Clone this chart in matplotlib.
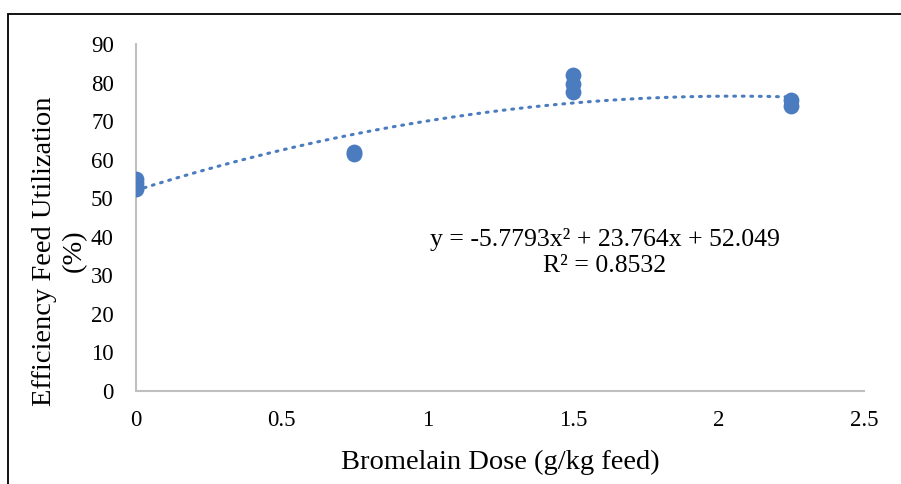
import numpy as np
import matplotlib
matplotlib.use('Agg')
import matplotlib.pyplot as plt
from matplotlib.patches import Rectangle

# bromelain dose (g/kg feed) and efficiency feed utilization (%)
dose = [0, 0, 0, 0, 0.75, 0.75, 1.5, 1.5, 1.5, 2.25, 2.25]
efu = [55, 54, 53, 52.5, 61.5, 62, 82, 79.5, 77.5, 75.5, 74]

# polynomial trendline coefficients as printed on the chart
coef = [-5.7793, 23.764, 52.049]
r2 = 0.8532

x_ticks = [0, 0.5, 1, 1.5, 2, 2.5]
y_ticks = [0, 10, 20, 30, 40, 50, 60, 70, 80, 90]

plt.rcParams['font.family'] = ['Liberation Serif', 'DejaVu Serif']

W, H = 901, 484
fig = plt.figure(figsize=(W / 100, H / 100), dpi=100)
ax = fig.add_axes([136 / W, 1 - 391 / H, 728 / W, 347 / H])

blue = '#4a7cbf'
xs = np.linspace(0, 2.25, 200)
ax.plot(xs, np.polyval(coef, xs), color=blue, linewidth=2.2,
        linestyle=(0, (0.6, 2.2)), dash_capstyle='round', zorder=2)
ax.scatter(dose, efu, s=130, color=blue, zorder=3, linewidths=0)

ax.set_xlim(0, 2.5)
ax.set_ylim(0, 90)
ax.set_xticks(x_ticks)
ax.set_xticklabels([f'{t:g}' for t in x_ticks])
ax.set_yticks(y_ticks)
ax.tick_params(length=0, labelsize=16.5)
ax.tick_params(axis='y', pad=16)
ax.tick_params(axis='x', pad=14)
for s in ['top', 'right']:
    ax.spines[s].set_visible(False)
for s in ['left', 'bottom']:
    ax.spines[s].set_color('#bfbfbf')
    ax.spines[s].set_linewidth(1.5)

fig.text(500 / W, 1 - 462 / H, 'Bromelain Dose (g/kg feed)', fontsize=20.5,
         ha='center', va='center')
fig.text(59 / W, 1 - 251 / H, 'Efficiency Feed Utilization\n(%)',
         fontsize=20.5, rotation=90, ha='center', va='center',
         multialignment='center', linespacing=1.25)

eq = f'y = {coef[0]}x² + {coef[1]}x + {coef[2]}\nR² = {r2}'
ax.text(1.61, 35.9, eq, ha='center', va='center', fontsize=18.5,
        linespacing=1.2)

# outer frame (cropped at right and bottom)
fig.patches.append(Rectangle((8 / W, -0.1), 1.2, 1 - 14 / H + 0.1,
                             transform=fig.transFigure, fill=False,
                             edgecolor='black', linewidth=1.3))

plt.savefig('out.png', dpi=100)
plt.close()
